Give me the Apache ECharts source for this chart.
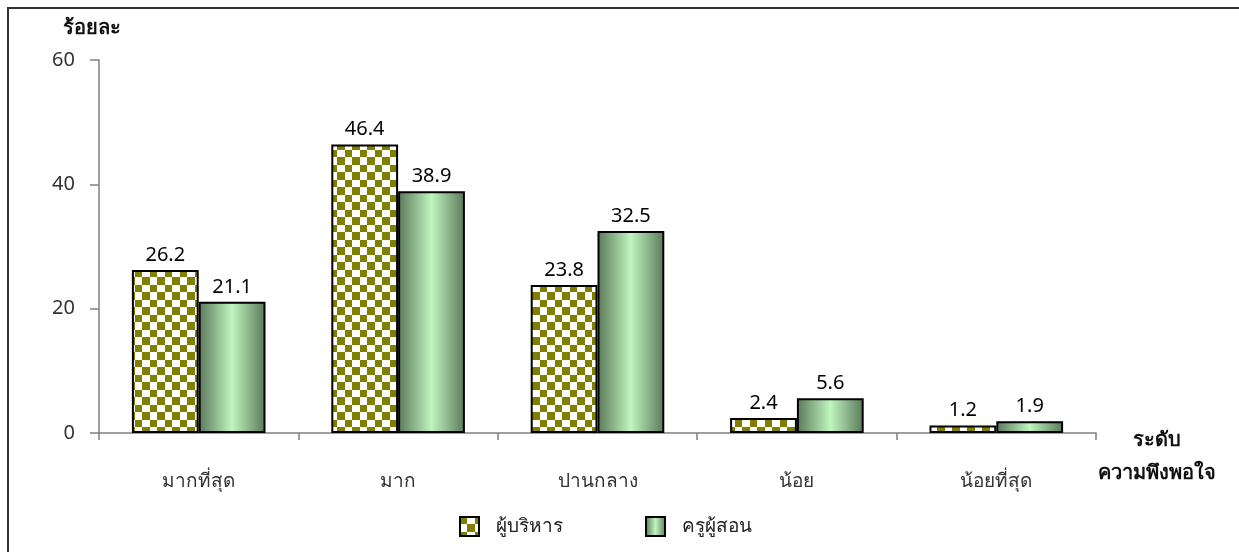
<!DOCTYPE html>
<html>
<head>
<meta charset="utf-8">
<script src="https://cdn.jsdelivr.net/npm/echarts@6/dist/echarts.min.js"></script>
<style>
html,body{margin:0;padding:0;background:#fff;}
#chart{width:1239px;height:552px;}
</style>
</head>
<body>
<div id="chart"></div>
<script>
var categories = ['มากที่สุด', 'มาก', 'ปานกลาง', 'น้อย', 'น้อยที่สุด'];
var seriesNames = ['ผู้บริหาร', 'ครูผู้สอน'];
var adminValues = [26.2, 46.4, 23.8, 2.4, 1.2];
var teacherValues = [21.1, 38.9, 32.5, 5.6, 1.9];
var yTicks = [0, 20, 40, 60];

var FONT = 'Tahoma, "Noto Sans", "DejaVu Sans", sans-serif';

// checkerboard pattern
var pc = document.createElement('canvas');
pc.width = 15; pc.height = 15;
var ctx = pc.getContext('2d');
ctx.fillStyle = '#ffffff';
ctx.fillRect(0, 0, 15, 15);
ctx.fillStyle = '#808000';
ctx.fillRect(0, 0, 7, 7);
ctx.fillRect(7, 7, 8, 8);

var greenGrad = {
  type: 'linear', x: 0, y: 0, x2: 1, y2: 0,
  colorStops: [
    {offset: 0, color: '#5a785a'},
    {offset: 0.5, color: '#bff5bf'},
    {offset: 1, color: '#5a785a'}
  ]
};

var chart = echarts.init(document.getElementById('chart'), null, {renderer: 'canvas'});
var option = {
  animation: false,
  textStyle: {fontFamily: FONT},
  graphic: [{
    type: 'rect',
    shape: {x: 8, y: 8, width: 1260, height: 580},
    style: {fill: 'none', stroke: '#333', lineWidth: 2},
    silent: true
  }],
  grid: {left: 99, right: 143, top: 60, bottom: 119},
  legend: {
    bottom: 10,
    left: 454,
    itemWidth: 19,
    itemHeight: 19,
    itemGap: 82,
    icon: 'rect',
    data: seriesNames,
    itemStyle: {borderColor: '#000', borderWidth: 2},
    textStyle: {fontSize: 19, color: '#222', fontFamily: FONT, padding: [0, 0, 0, 12]}
  },
  xAxis: {
    type: 'category',
    data: categories,
    name: '{a|ระดับ}\n{b|ความพึงพอใจ}',
    nameLocation: 'end',
    nameGap: 61,
    nameTextStyle: {
      fontSize: 20, fontWeight: 'bold', color: '#111', align: 'center', verticalAlign: 'top', fontFamily: FONT,
      rich: {
        a: {fontSize: 20, fontWeight: 'bold', color: '#111', lineHeight: 14, fontFamily: FONT, align: 'center'},
        b: {fontSize: 20, fontWeight: 'bold', color: '#111', lineHeight: 52, fontFamily: FONT, align: 'center'}
      }
    },
    axisLine: {lineStyle: {color: '#808080', width: 1.5}},
    axisTick: {show: true, length: 7, lineStyle: {color: '#808080', width: 1.5}},
    axisLabel: {fontSize: 19, color: '#333', margin: 39, fontFamily: FONT}
  },
  yAxis: {
    type: 'value',
    min: 0,
    max: 60,
    interval: 20,
    name: 'ร้อยละ',
    nameLocation: 'end',
    nameGap: 22,
    nameTextStyle: {fontSize: 20, fontWeight: 'bold', color: '#111', padding: [0, 14, 0, 0], fontFamily: FONT},
    axisLine: {show: true, lineStyle: {color: '#808080', width: 1.5}},
    axisTick: {show: true, length: 9, lineStyle: {color: '#808080', width: 1.5}},
    splitLine: {show: false},
    axisLabel: {
      fontSize: 20, color: '#333', margin: 24, fontFamily: FONT,
      formatter: function (v) { return yTicks.indexOf(v) >= 0 ? String(v) : ''; }
    }
  },
  series: [
    {
      name: seriesNames[0],
      type: 'bar',
      data: adminValues,
      barGap: '0%',
      barCategoryGap: '33%',
      itemStyle: {
        color: {image: pc, repeat: 'repeat'},
        borderColor: '#000',
        borderWidth: 2
      },
      label: {show: true, position: 'top', distance: 5, fontSize: 20, color: '#000', fontFamily: FONT}
    },
    {
      name: seriesNames[1],
      type: 'bar',
      data: teacherValues,
      barGap: '0%',
      barCategoryGap: '33%',
      itemStyle: {
        color: greenGrad,
        borderColor: '#000',
        borderWidth: 2
      },
      label: {show: true, position: 'top', distance: 5, fontSize: 20, color: '#000', fontFamily: FONT}
    }
  ]
};
chart.setOption(option);
</script>
</body>
</html>
